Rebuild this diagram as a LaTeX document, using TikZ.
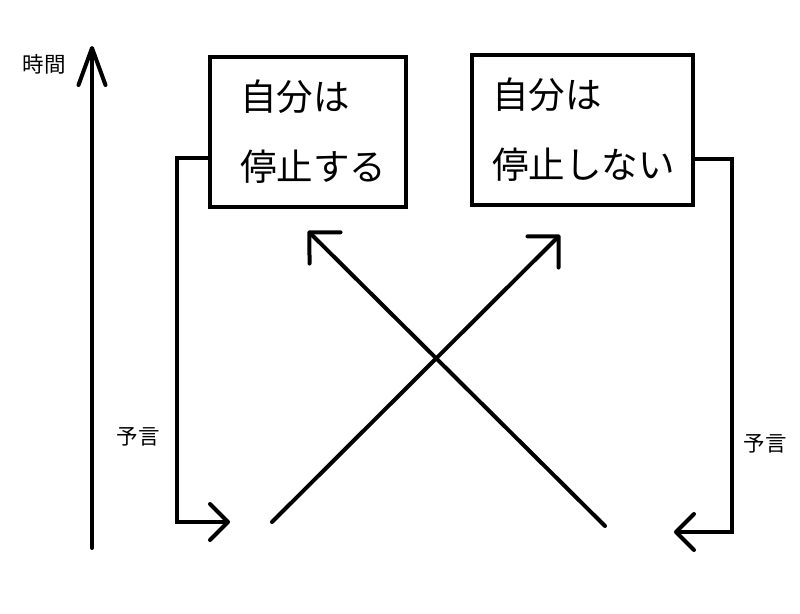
\documentclass[tikz,border=0pt]{standalone}
\usepackage{fontspec}
\newfontfamily\jpfont{Noto Sans CJK JP}
\usetikzlibrary{arrows.meta,calc}
\tikzset{
  box/.style={draw, line width=4.5pt, minimum height=150pt, align=left, anchor=center, font=\jpfont\fontsize{36.5}{70}\selectfont},
  lbl/.style={font=\jpfont\fontsize{21.5}{24}\selectfont, inner sep=0pt},
  conn/.style={line width=4pt, line cap=round, line join=miter},
  bigtip/.style={-{Straight Barb[round, length=22pt, width=44pt]}},
  smalltip/.style={-{Straight Barb[round, length=18pt, width=36pt]}},
  timetip/.style={-{Straight Barb[round, length=37pt, width=27pt]}}
}
\begin{document}
\begin{tikzpicture}[x=1pt,y=-1pt]
\useasboundingbox[fill=white] (0,0) rectangle (800,613);
% boxes
\node[box, text width=136pt, inner xsep=30pt] (b1) at (308,132) {\mbox{自分は}\\\mbox{停止する}};
\node[box, text width=181pt, inner xsep=20pt] (b2) at (582.5,130) {\mbox{自分は}\\\mbox{停止しない}};
% labels
\node[lbl] (tlab) at (44,64) {時間};
\node[lbl] (ylab) at (138,437) {予言};
\node[lbl] (rlab) at (765,444) {予言};
% coordinates
\coordinate (t0) at (92,548);
\coordinate (t1) at (92,46);
\coordinate (lc) at (177,522);
\coordinate (lt) at (230,522);
\coordinate (rc) at (732,532);
\coordinate (rt) at (674,532);
\coordinate (a1) at (272,522);
\coordinate (a2) at (560,235);
\coordinate (c1) at (605,526);
\coordinate (c2) at (308,231);
% time axis
\draw[conn, timetip] (t0) -- (t1);
% prophecy connectors
\draw[conn, smalltip] ([yshift=-26pt]b1.west) -| (lc) -- (lt);
\draw[conn, smalltip] ([yshift=-29pt]b2.east) -| (rc) -- (rt);
% crossing arrows
\draw[conn, bigtip] (a1) -- (a2);
\draw[conn, bigtip] (c1) -- (c2);
\end{tikzpicture}
\end{document}
